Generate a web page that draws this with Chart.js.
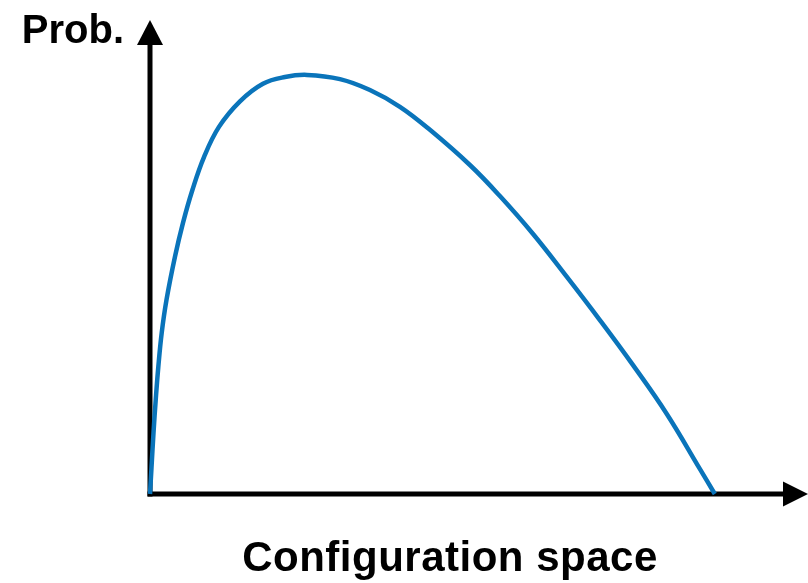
<!DOCTYPE html>
<html>
<head>
<meta charset="utf-8">
<script src="https://cdn.jsdelivr.net/npm/chart.js@4"></script>
<style>
  html, body { margin: 0; padding: 0; background: #fff; }
  #wrap { width: 808px; height: 583px; }
</style>
</head>
<body>
<div id="wrap"><canvas id="curveChart" width="808" height="583"></canvas></div>
<script>
// configuration coordinate (curve runs 0..100) and relative probability (peak = 100)
const configX = [0, 0.27, 0.62, 1.01, 1.47, 2.07, 2.92, 4.42, 5.84, 7.52, 9.56, 12.21, 15.93,
  20.0, 23.89, 27.79, 33.63, 38.94, 44.25, 49.56, 56.64, 61.95, 67.79, 73.81, 79.65, 85.49,
  91.5, 97.35, 100];
const probY = [0, 6.4, 14.6, 22.4, 30.3, 38.4, 46.3, 56.6, 64.7, 72.6, 80.4, 87.6, 93.7,
  97.9, 99.5, 100, 99.0, 96.4, 92.4, 86.9, 78.5, 71.1, 62.1, 51.8, 41.5, 30.8,
  19.1, 6.0, 0];
const xLabel = 'Configuration space';
const yLabel = 'Prob.';

const points = configX.map((x, i) => ({ x: x, y: probY[i] }));

const axesPlugin = {
  id: 'arrowAxes',
  beforeDatasetsDraw(chart) {
    const ctx = chart.ctx;
    const area = chart.chartArea;
    const x0 = chart.scales.x.getPixelForValue(0);
    const y0 = chart.scales.y.getPixelForValue(0);
    ctx.save();
    ctx.strokeStyle = '#000';
    ctx.fillStyle = '#000';
    ctx.lineWidth = 5;
    ctx.lineCap = 'butt';
    // y axis
    ctx.beginPath();
    ctx.moveTo(x0, y0 + 2.5);
    ctx.lineTo(x0, area.top + 20);
    ctx.stroke();
    ctx.beginPath();
    ctx.moveTo(x0, area.top);
    ctx.lineTo(x0 - 13, area.top + 25);
    ctx.lineTo(x0 + 13, area.top + 25);
    ctx.closePath();
    ctx.fill();
    // x axis
    ctx.beginPath();
    ctx.moveTo(x0 - 2.5, y0);
    ctx.lineTo(area.right - 20, y0);
    ctx.stroke();
    ctx.beginPath();
    ctx.moveTo(area.right, y0);
    ctx.lineTo(area.right - 25, y0 - 12.5);
    ctx.lineTo(area.right - 25, y0 + 12.5);
    ctx.closePath();
    ctx.fill();
    ctx.restore();
  },
  afterDraw(chart) {
    const ctx = chart.ctx;
    const x0 = chart.scales.x.getPixelForValue(0);
    ctx.save();
    ctx.fillStyle = '#000';
    ctx.textBaseline = 'alphabetic';
    ctx.font = 'bold 40px "Liberation Sans", Arial, sans-serif';
    ctx.textAlign = 'right';
    ctx.fillText(yLabel, x0 - 26, 43);
    ctx.font = 'bold 42px "Liberation Sans", Arial, sans-serif';
    ctx.letterSpacing = '0.5px';
    ctx.textAlign = 'center';
    ctx.fillText(xLabel, 450, 571);
    ctx.restore();
  }
};

new Chart(document.getElementById('curveChart').getContext('2d'), {
  type: 'line',
  data: {
    datasets: [{
      data: points,
      borderColor: '#0A74BA',
      borderWidth: 4.5,
      pointRadius: 0,
      fill: false,
      tension: 0.4,
      clip: false
    }]
  },
  options: {
    responsive: false,
    animation: false,
    layout: { padding: { left: 150, right: 0, top: 20, bottom: 89 } },
    plugins: { legend: { display: false }, tooltip: { enabled: false } },
    scales: {
      x: { type: 'linear', min: 0, max: 116.5, display: false },
      y: { min: 0, max: 113.1, display: false }
    }
  },
  plugins: [axesPlugin]
});
</script>
</body>
</html>
